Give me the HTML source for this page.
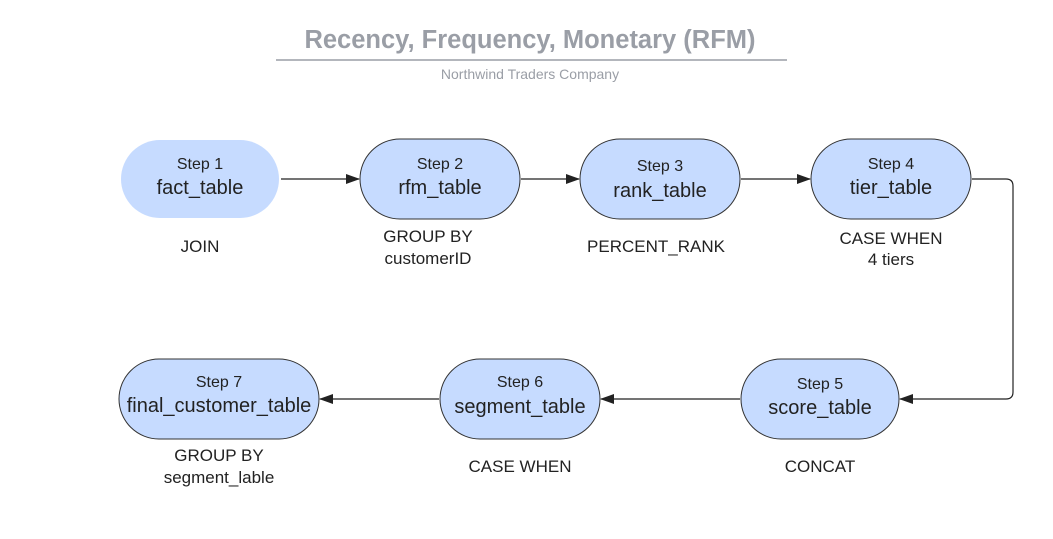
<!DOCTYPE html>
<html><head><style>body{margin:0;background:#fff}svg{display:block}</style></head><body>
<svg width="1053" height="539" xmlns="http://www.w3.org/2000/svg" font-family="Liberation Sans, sans-serif">
<defs><marker id="a" markerWidth="14" markerHeight="12" refX="13" refY="6" orient="auto" markerUnits="userSpaceOnUse"><path d="M0,1 L14,6 L0,11z" fill="#222"/></marker></defs>
<text x="530" y="48" text-anchor="middle" font-size="25.5" font-weight="bold" fill="#9a9ea6">Recency, Frequency, Monetary (RFM)</text>
<line x1="276" y1="60" x2="787" y2="60" stroke="#9a9ea6" stroke-width="1.5"/>
<text x="530" y="79" text-anchor="middle" font-size="14" fill="#9a9ea6">Northwind Traders Company</text>
<g fill="#c6dbff" stroke="#333" stroke-width="1">
<rect x="121" y="140" width="158" height="78" rx="39" stroke="none"/>
<rect x="360" y="139" width="160" height="80" rx="40"/>
<rect x="580" y="139" width="160" height="80" rx="40"/>
<rect x="811" y="139" width="160" height="80" rx="40"/>
<rect x="119" y="359" width="200" height="80" rx="40"/>
<rect x="440" y="359" width="160" height="80" rx="40"/>
<rect x="741" y="359" width="158" height="80" rx="40"/>
</g>
<g stroke="#222" stroke-width="1.2" fill="none" marker-end="url(#a)">
<line x1="281" y1="179" x2="359" y2="179"/>
<line x1="521" y1="179" x2="579" y2="179"/>
<line x1="741" y1="179" x2="810" y2="179"/>
<path d="M972,179 H1006 Q1013,179 1013,186 V392 Q1013,399 1006,399 H900"/>
<line x1="740" y1="399" x2="601" y2="399"/>
<line x1="439" y1="399" x2="320" y2="399"/>
</g>
<g text-anchor="middle" fill="#222">
<g font-size="16"><text x="200" y="169">Step 1</text><text x="440" y="169">Step 2</text><text x="660" y="171">Step 3</text><text x="891" y="169">Step 4</text><text x="219" y="387">Step 7</text><text x="520" y="387">Step 6</text><text x="820" y="389">Step 5</text></g>
<g font-size="20"><text x="200" y="194">fact_table</text><text x="440" y="194">rfm_table</text><text x="660" y="197">rank_table</text><text x="891" y="194">tier_table</text><text x="219" y="412">final_customer_table</text><text x="520" y="413">segment_table</text><text x="820" y="414">score_table</text></g>
<g font-size="17"><text x="200" y="252">JOIN</text><text x="428" y="242">GROUP BY</text><text x="428" y="264">customerID</text><text x="656" y="252">PERCENT_RANK</text><text x="891" y="244">CASE WHEN</text><text x="891" y="265">4 tiers</text><text x="219" y="461">GROUP BY</text><text x="219" y="483">segment_lable</text><text x="520" y="472">CASE WHEN</text><text x="820" y="472">CONCAT</text></g>
</g>
</svg>
</body></html>
